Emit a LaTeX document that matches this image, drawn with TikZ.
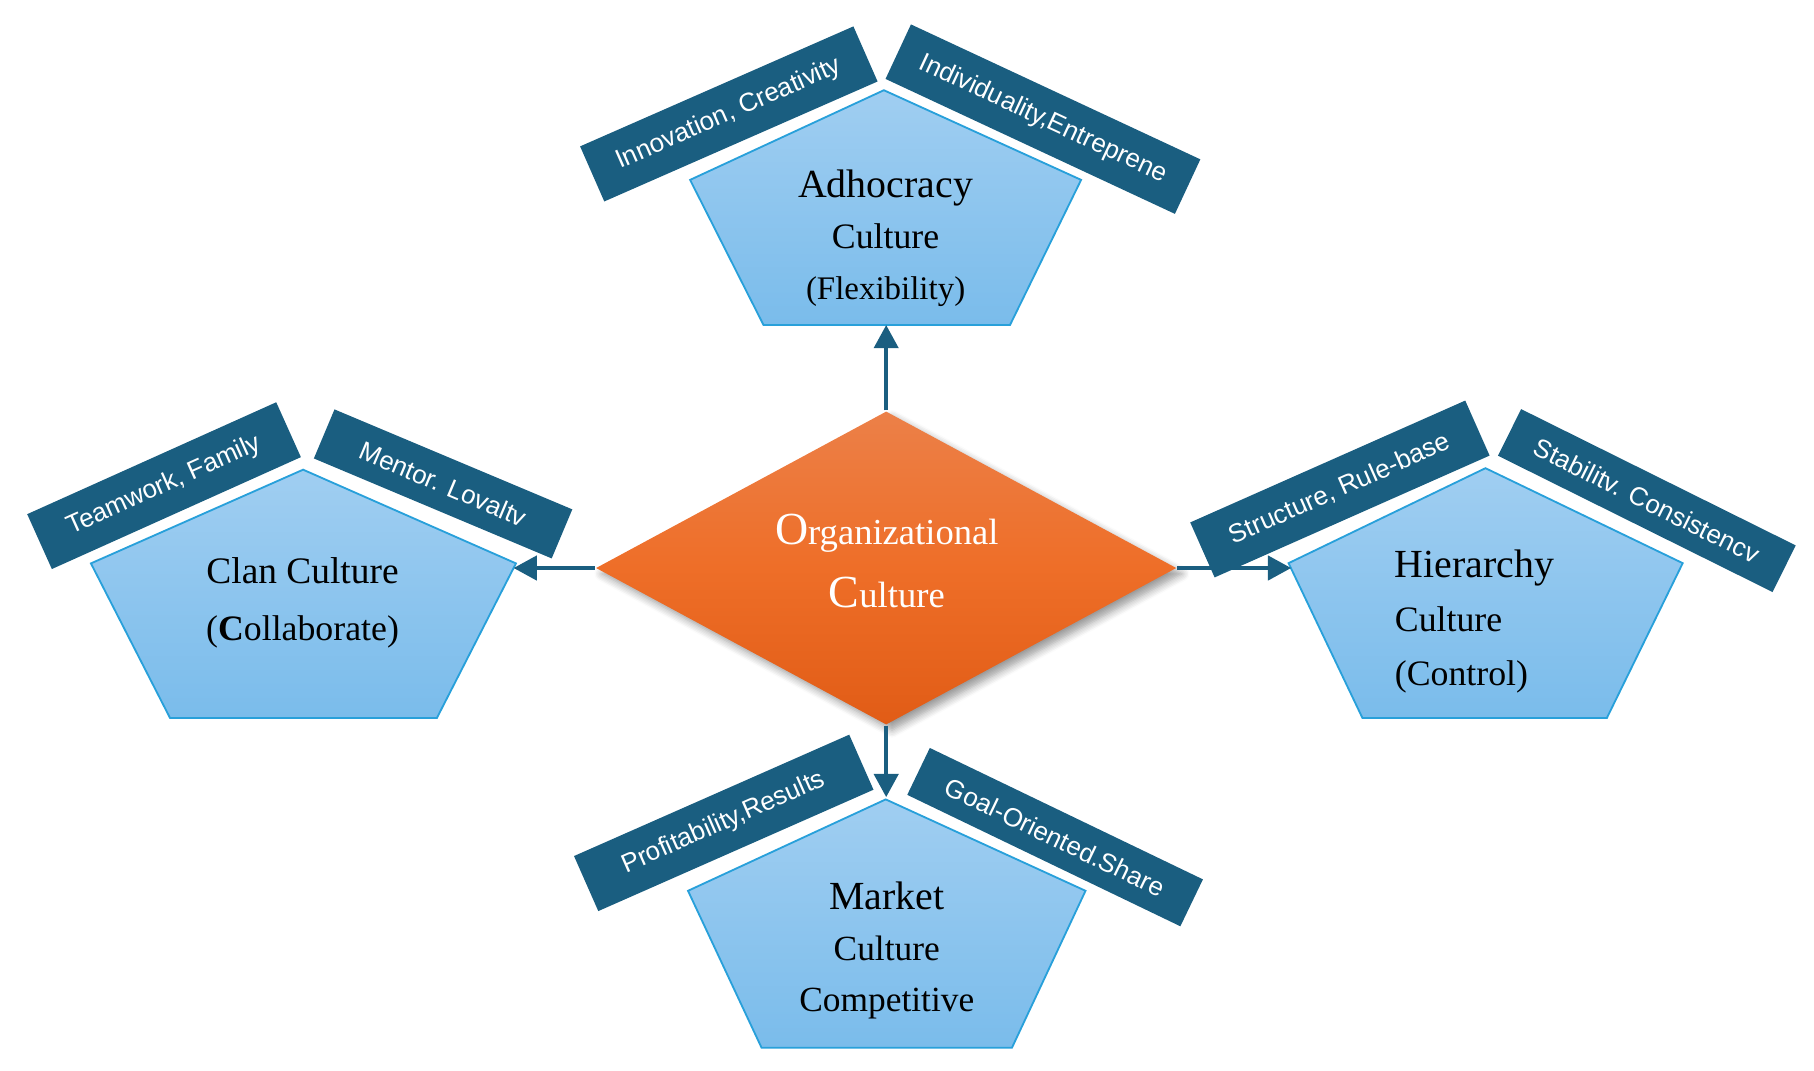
\documentclass[tikz,border=0pt]{standalone}
\usepackage{fontspec}
\setmainfont{Liberation Serif}
\setsansfont{Liberation Sans}
\usepackage{tikz}
\usetikzlibrary{shapes.geometric,arrows.meta,shadows.blur}
\usepackage{xcolor}
\definecolor{tagblue}{RGB}{26,94,128}
\definecolor{pentatop}{RGB}{160,206,241}
\definecolor{pentabot}{RGB}{122,188,235}
\definecolor{pentaedge}{RGB}{40,160,218}
\definecolor{orgtop}{RGB}{236,128,72}
\definecolor{orgmid}{RGB}{238,110,40}
\definecolor{orgbot}{RGB}{225,92,22}

\begin{document}
\begin{tikzpicture}[x=1cm, y=-1cm,
  pentagon/.style={draw=pentaedge, line width=0.45pt, top color=pentatop, bottom color=pentabot},
  tag/.style={fill=tagblue, text=white, inner sep=0pt, minimum height=0.52cm, font=\sffamily\fontsize{6.4}{7.5}\selectfont},
  flow/.style={draw=tagblue, line width=0.85pt, -{Triangle[length=0.2cm, width=0.21cm]}},
  celltext/.style={align=center, inner sep=0pt}]

\useasboundingbox (0,0) rectangle (15.68,9.25);

% pentagons
\draw[pentagon] (7.64,0.78) -- (9.345,1.555) -- (8.73,2.81) -- (6.60,2.81) -- (5.965,1.555) -- cycle;
\draw[pentagon] (2.62,4.06) -- (4.46,4.87) -- (3.776,6.207) -- (1.47,6.207) -- (0.786,4.87) -- cycle;
\draw[pentagon] (12.84,4.047) -- (14.545,4.868) -- (13.889,6.207) -- (11.777,6.207) -- (11.138,4.868) -- cycle;
\draw[pentagon] (7.656,6.91) -- (9.383,7.70) -- (8.747,9.057) -- (6.583,9.057) -- (5.947,7.70) -- cycle;
\coordinate (adhs) at (7.66,2.81);
\coordinate (clane) at (4.44,4.91);
\coordinate (hierw) at (11.16,4.91);
\coordinate (mktn) at (7.66,6.89);

% labels
\node[tag, minimum width=2.58cm, rotate=23.7] (innov) at (6.30,0.985) {Innovation, Creativity};
\node[tag, minimum width=2.76cm, rotate=-25] (indiv) at (9.015,1.03) {Individuality,Entreprene};
\node[tag, minimum width=2.36cm, rotate=24.2] (team) at (1.418,4.198) {Teamwork, Family};
\node[tag, minimum width=2.23cm, minimum height=0.46cm, rotate=-22.8] (mentor) at (3.83,4.183) {Mentor. Lovaltv};
\node[tag, minimum width=2.60cm, rotate=23.9] (struct) at (11.582,4.227) {Structure, Rule-base};
\node[tag, minimum width=2.65cm, minimum height=0.45cm, rotate=-26.4] (stab) at (14.235,4.327) {Stabilitv. Consistencv};
\node[tag, minimum width=2.60cm, rotate=23.8] (profit) at (6.256,7.113) {Profitability,Results};
\node[tag, minimum width=2.62cm, minimum height=0.45cm, rotate=-25.7] (goal) at (9.12,7.236) {Goal-Oriented.Share};

% diamond
\node[diamond, aspect=1.85, inner sep=0pt, minimum width=5.02cm, minimum height=2.71cm,
  top color=orgtop, bottom color=orgbot, middle color=orgmid,
  blur shadow={shadow xshift=0.05cm, shadow yshift=-0.05cm, shadow blur steps=6}] (org) at (7.66,4.91) {};
\node[celltext, text=white, font=\fontsize{9}{15.5}\selectfont] (orgtext) at (7.665,4.85)
  {{\fontsize{11.3}{15.5}\selectfont O}rganizational\\{\fontsize{11.3}{15.5}\selectfont C}ulture};

% texte
\node[celltext, font=\fontsize{8.8}{12.5}\selectfont] (adhtext) at (7.655,2.057)
  {{\fontsize{9.8}{12.5}\selectfont Adhocracy}\\Culture\\{\fontsize{8.1}{12.5}\selectfont(Flexibility)}};
\node[celltext, font=\fontsize{8.8}{14.2}\selectfont] (clantext) at (2.615,5.21)
  {{\fontsize{9.2}{14.2}\selectfont Clan Culture}\\({\bfseries C}ollaborate)};
\node[celltext, align=left, anchor=west, font=\fontsize{8.8}{13.3}\selectfont] (hiertext) at (12.05,5.375)
  {{\fontsize{9.8}{13.3}\selectfont Hierarchy}\\Culture\\(Control)};
\node[celltext, font=\fontsize{8.7}{12.5}\selectfont] (mkttext) at (7.665,8.215)
  {{\fontsize{9.8}{12.5}\selectfont Market}\\Culture\\Competitive};

% arrows
\draw[flow] (org.north) -- (adhs);
\draw[flow] (org.west) -- (clane);
\draw[flow] (org.east) -- (hierw);
\draw[flow] (org.south) -- (mktn);

\end{tikzpicture}
\end{document}
